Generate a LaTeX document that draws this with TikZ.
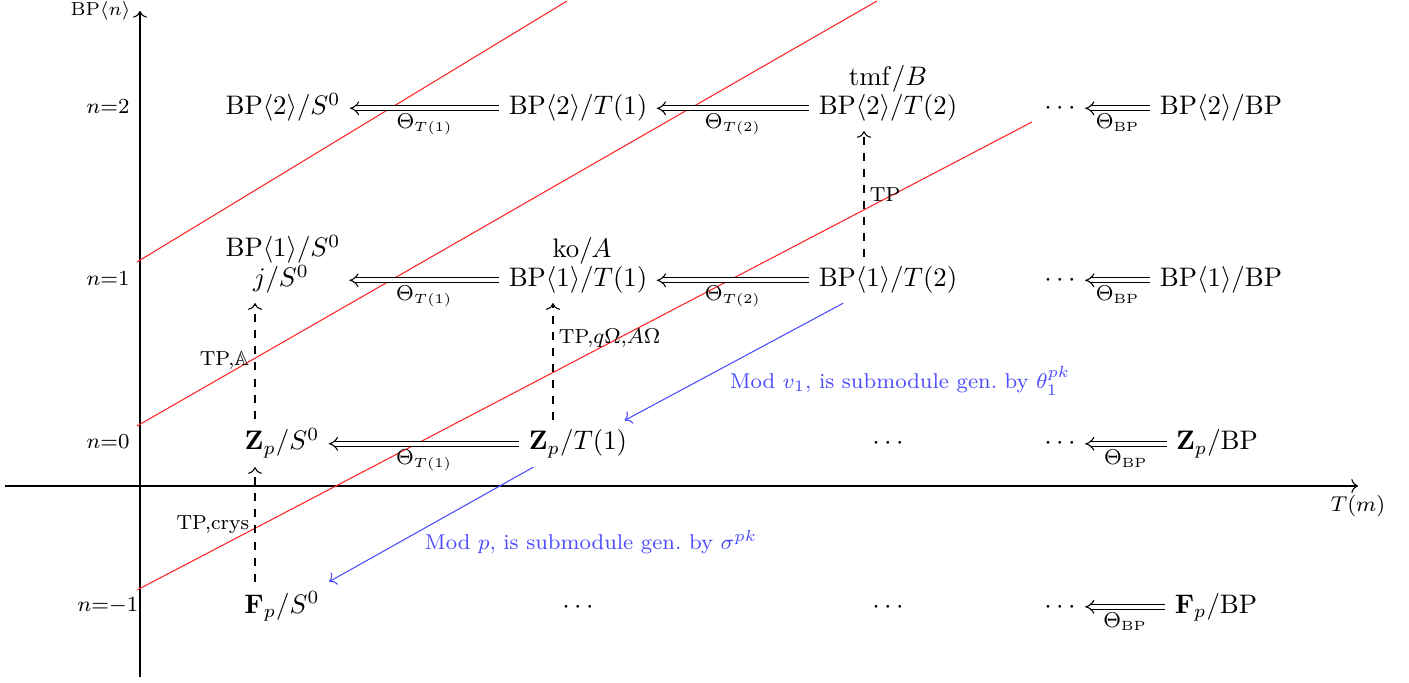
\documentclass[tikz,border=0pt]{standalone}
\usepackage{amssymb}
\usetikzlibrary{arrows.meta,calc}
\begin{document}
\begin{tikzpicture}[x=0.37313pt,y=-0.37313pt,
  obj/.style={anchor=base},
  upper/.style={anchor=base,inner sep=0.5pt},
  lab/.style={font=\fontsize{7.6}{9}\selectfont,inner sep=2pt},
  rowlab/.style={font=\footnotesize},
  impl/.style={double,double distance=1.4pt,-{Implies}},
  tparr/.style={dashed,->},
  bluearr/.style={blue!70,->},
  bluelab/.style={blue!70,font=\footnotesize},
  redline/.style={red!85,line width=0.4pt}]
\useasboundingbox (0,0) rectangle (1409,683);
% axes
\coordinate (yb) at (140,677);
\coordinate (yt) at (140,11);
\coordinate (xl) at (5,486);
\coordinate (xr) at (1358,486);
\draw[->] (yb) -- (yt);
\draw[->] (xl) -- (xr);
\node[left,font=\scriptsize] (ylab) at (yt) {$\mathrm{BP}\langle n\rangle$};
\node[below,font=\footnotesize] (xlab) at (xr) {$T(m)$};
% row labels
\node[rowlab] (r2) at (108,107) {$n{=}2$};
\node[rowlab] (r1) at (108,279) {$n{=}1$};
\node[rowlab] (r0) at (108,442) {$n{=}0$};
\node[rowlab] (rm) at (108,606) {$n{=}{-}1$};
% red lines
\draw[redline] (137,262) -- (567,1);
\draw[redline] (137,426) -- (877,1);
\draw[redline] (137,590) -- (1032,122);
% row n=2
\node[obj] (a2) at (283,115) {$\mathrm{BP}\langle 2\rangle/S^0$};
\node[obj] (b2) at (578,115) {$\mathrm{BP}\langle 2\rangle/T(1)$};
\node[obj] (c2) at (888,115) {$\mathrm{BP}\langle 2\rangle/T(2)$};
\node[upper] (c2u) at (888,86) {$\mathrm{tmf}/B$};
\node[obj] (d2) at (1060,115) {$\cdots$};
\node[obj] (e2) at (1221,115) {$\mathrm{BP}\langle 2\rangle/\mathrm{BP}$};
% row n=1
\node[upper] (a1u) at (283,257) {$\mathrm{BP}\langle 1\rangle/S^0$};
\node[obj] (a1) at (281,287) {$j/S^0$};
\node[upper] (b1u) at (582,258) {$\mathrm{ko}/A$};
\node[obj] (b1) at (578,287) {$\mathrm{BP}\langle 1\rangle/T(1)$};
\node[obj] (c1) at (888,287) {$\mathrm{BP}\langle 1\rangle/T(2)$};
\node[obj] (d1) at (1060,287) {$\cdots$};
\node[obj] (e1) at (1221,287) {$\mathrm{BP}\langle 1\rangle/\mathrm{BP}$};
% row n=0
\node[obj] (a0) at (282,450) {$\mathbf{Z}_p/S^0$};
\node[obj] (b0) at (578,450) {$\mathbf{Z}_p/T(1)$};
\node[obj] (c0) at (888,450) {$\cdots$};
\node[obj] (d0) at (1060,450) {$\cdots$};
\node[obj] (e0) at (1217,450) {$\mathbf{Z}_p/\mathrm{BP}$};
% row n=-1
\node[obj] (am) at (282,613) {$\mathbf{F}_p/S^0$};
\node[obj] (bm) at (578,613) {$\cdots$};
\node[obj] (cm) at (888,613) {$\cdots$};
\node[obj] (dm) at (1060,613) {$\cdots$};
\node[obj] (em) at (1216,613) {$\mathbf{F}_p/\mathrm{BP}$};
% double arrows
\draw[impl] (b2.west) -- (b2.west -| a2.east) node[midway,below,lab] {$\Theta_{T(1)}$};
\draw[impl] (c2.west) -- (c2.west -| b2.east) node[midway,below,lab] {$\Theta_{T(2)}$};
\draw[impl] (e2.west) -- (e2.west -| d2.east) node[midway,below,lab] {$\Theta_{\mathrm{BP}}$};
\draw[impl] (b1.west) -- ($(b1.west -| a1u.east)+(7,0)$) node[midway,below,lab] {$\Theta_{T(1)}$};
\draw[impl] (c1.west) -- (c1.west -| b1.east) node[midway,below,lab] {$\Theta_{T(2)}$};
\draw[impl] (e1.west) -- (e1.west -| d1.east) node[midway,below,lab] {$\Theta_{\mathrm{BP}}$};
\draw[impl] (b0.west) -- (b0.west -| a0.east) node[midway,below,lab] {$\Theta_{T(1)}$};
\draw[impl] (e0.west) -- (e0.west -| d0.east) node[midway,below,lab] {$\Theta_{\mathrm{BP}}$};
\draw[impl] (em.west) -- (em.west -| dm.east) node[midway,below,lab] {$\Theta_{\mathrm{BP}}$};
% dashed TP arrows
\coordinate (v1) at (255,0);
\coordinate (v2) at (553,0);
\coordinate (v3) at (864,0);
\draw[tparr] (am.north -| v1) -- (a0.south -| v1) node[midway,left,lab] {TP,crys};
\draw[tparr] (a0.north -| v1) -- (a1.south -| v1) node[midway,left,lab] {TP,$\mathbb{A}$};
\draw[tparr] (b0.north -| v2) -- (b1.south -| v2) node[pos=0.7,right,lab] {TP,$q\Omega$,$A\Omega$};
\draw[tparr] (c1.north -| v3) -- (c2.south -| v3) node[midway,right,lab] {TP};
% blue arrows
\draw[bluearr] ($(c1.south west)+(34,0)$) -- ($(b0.north east)+(-12,0)$);
\draw[bluearr] ($(b0.south west)+(14,0)$) -- (am.north east);
\node[bluelab] (m1) at (900,381) {Mod $v_1$, is submodule gen.\ by $\theta_1^{pk}$};
\node[bluelab] (m2) at (591,542) {Mod $p$, is submodule gen.\ by $\sigma^{pk}$};
\end{tikzpicture}
\end{document}
